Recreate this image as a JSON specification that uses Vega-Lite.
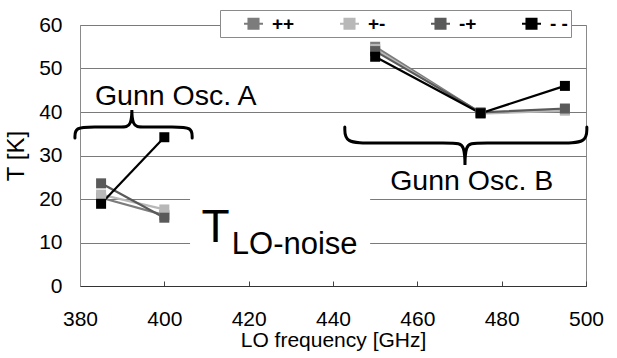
{
  "$schema": "https://vega.github.io/schema/vega-lite/v6.json",
  "width": 506,
  "height": 261,
  "autosize": {"type": "none"},
  "padding": {"left": 80, "top": 25, "right": 31, "bottom": 72},
  "background": "white",
  "config": {
    "font": "Liberation Sans",
    "view": {"stroke": "#8a8a8a", "strokeWidth": 1},
    "axis": {"labelFont": "Liberation Sans", "titleFont": "Liberation Sans", "labelColor": "#000", "titleColor": "#000", "titleFontWeight": "normal"}
  },
  "datasets": {
    "series": [
      {"f": 385, "T": 20.3, "pol": "++", "osc": "A"},
      {"f": 400, "T": 16.3, "pol": "++", "osc": "A"},
      {"f": 385, "T": 21.0, "pol": "+-", "osc": "A"},
      {"f": 400, "T": 17.6, "pol": "+-", "osc": "A"},
      {"f": 385, "T": 23.6, "pol": "-+", "osc": "A"},
      {"f": 400, "T": 15.7, "pol": "-+", "osc": "A"},
      {"f": 450, "T": 55.0, "pol": "++", "osc": "B"},
      {"f": 475, "T": 39.8, "pol": "++", "osc": "B"},
      {"f": 495, "T": 40.5, "pol": "++", "osc": "B"},
      {"f": 450, "T": 54.5, "pol": "+-", "osc": "B"},
      {"f": 475, "T": 39.6, "pol": "+-", "osc": "B"},
      {"f": 495, "T": 40.3, "pol": "+-", "osc": "B"},
      {"f": 450, "T": 54.0, "pol": "-+", "osc": "B"},
      {"f": 475, "T": 39.9, "pol": "-+", "osc": "B"},
      {"f": 495, "T": 40.8, "pol": "-+", "osc": "B"},
      {"f": 385, "T": 18.9, "pol": "- -", "osc": "A"},
      {"f": 400, "T": 34.2, "pol": "- -", "osc": "A"},
      {"f": 450, "T": 52.7, "pol": "- -", "osc": "B"},
      {"f": 475, "T": 39.7, "pol": "- -", "osc": "B"},
      {"f": 495, "T": 46.0, "pol": "- -", "osc": "B"}
    ],
    "braces": [
      {"brace": "A", "i": 0, "f": 378.8, "T": 34.0},
      {"brace": "A", "i": 1, "f": 378.8, "T": 36.55},
      {"brace": "A", "i": 2, "f": 383.0, "T": 36.55},
      {"brace": "A", "i": 3, "f": 390.0, "T": 36.55},
      {"brace": "A", "i": 4, "f": 392.3, "T": 36.55},
      {"brace": "A", "i": 5, "f": 392.3, "T": 42.4},
      {"brace": "A", "i": 6, "f": 392.3, "T": 36.55},
      {"brace": "A", "i": 7, "f": 394.6, "T": 36.55},
      {"brace": "A", "i": 8, "f": 402.4, "T": 36.55},
      {"brace": "A", "i": 9, "f": 406.6, "T": 36.55},
      {"brace": "A", "i": 10, "f": 406.6, "T": 34.0},
      {"brace": "B", "i": 0, "f": 442.8, "T": 36.55},
      {"brace": "B", "i": 1, "f": 442.8, "T": 32.87},
      {"brace": "B", "i": 2, "f": 449.0, "T": 32.87},
      {"brace": "B", "i": 3, "f": 469.0, "T": 32.87},
      {"brace": "B", "i": 4, "f": 471.3, "T": 32.87},
      {"brace": "B", "i": 5, "f": 471.3, "T": 25.3},
      {"brace": "B", "i": 6, "f": 471.3, "T": 32.87},
      {"brace": "B", "i": 7, "f": 473.6, "T": 32.87},
      {"brace": "B", "i": 8, "f": 494.0, "T": 32.87},
      {"brace": "B", "i": 9, "f": 500.2, "T": 32.87},
      {"brace": "B", "i": 10, "f": 500.2, "T": 36.55}
    ]
  },
  "layer": [
    {
      "data": {"values": [{"f": 406.1, "f2": 448.8, "T": 4.5, "T2": 21.0}]},
      "mark": {"type": "rect", "fill": "white", "stroke": null},
      "encoding": {
        "x": {"field": "f", "type": "quantitative", "scale": {"domain": [380, 500], "nice": false, "zero": false},
          "axis": {"values": [380, 400, 420, 440, 460, 480, 500], "format": "d", "grid": false, "ticks": true, "tickSize": -5, "tickColor": "#444", "domainColor": "#333", "labelFontSize": 21, "labelPadding": 27, "labelFlush": false, "title": "LO frequency [GHz]", "titleFontSize": 21, "titlePadding": 0}},
        "x2": {"field": "f2"},
        "y": {"field": "T", "type": "quantitative", "scale": {"domain": [0, 60], "nice": false},
          "axis": {"values": [0, 10, 20, 30, 40, 50, 60], "grid": true, "gridColor": "#7a7a7a", "gridWidth": 1, "ticks": false, "domainColor": "#8a8a8a", "labelFontSize": 21, "labelPadding": 18, "title": "T [K]", "titleFontSize": 24, "titlePadding": 10}},
        "y2": {"field": "T2"}
      }
    },
    {
      "data": {"name": "braces"},
      "mark": {"type": "line", "interpolate": "basis", "color": "black", "strokeWidth": 3, "strokeCap": "round"},
      "encoding": {
        "x": {"field": "f", "type": "quantitative"},
        "y": {"field": "T", "type": "quantitative"},
        "detail": {"field": "brace"},
        "order": {"field": "i", "type": "quantitative"}
      }
    },
    {
      "data": {"name": "series"},
      "mark": {"type": "line", "strokeWidth": 2.2},
      "encoding": {
        "x": {"field": "f", "type": "quantitative"},
        "y": {"field": "T", "type": "quantitative"},
        "detail": {"field": "osc"},
        "color": {"field": "pol", "type": "nominal",
          "scale": {"domain": ["++", "+-", "-+", "- -"], "range": ["#7c7c7c", "#b8b8b8", "#5a5a5a", "#000000"]},
          "legend": {"orient": "none", "legendX": 140, "legendY": -15, "direction": "horizontal", "title": null,
            "symbolType": "M-1,0H1M-0.53,-0.53H0.53V0.53H-0.53Z", "symbolSize": 361, "symbolStrokeWidth": 2,
            "labelFontSize": 19, "labelFontWeight": "bold", "labelFont": "Liberation Sans", "labelColor": "#000", "labelOffset": 8,
            "columnPadding": 24, "padding": 3, "symbolOffset": 20,
            "fillColor": "white", "strokeColor": "#8a8a8a"}
        }
      }
    },
    {
      "data": {"name": "series"},
      "mark": {"type": "point", "shape": "square", "filled": true, "size": 100, "opacity": 1},
      "encoding": {
        "x": {"field": "f", "type": "quantitative"},
        "y": {"field": "T", "type": "quantitative"},
        "color": {"field": "pol", "type": "nominal",
          "legend": {"orient": "none", "legendX": 140, "legendY": -15, "direction": "horizontal", "title": null,
            "symbolType": "M-1,0H1M-0.53,-0.53H0.53V0.53H-0.53Z", "symbolSize": 361, "symbolStrokeWidth": 2,
            "labelFontSize": 19, "labelFontWeight": "bold", "labelFont": "Liberation Sans", "labelColor": "#000", "labelOffset": 8,
            "columnPadding": 24, "padding": 3, "symbolOffset": 20,
            "fillColor": "white", "strokeColor": "#8a8a8a"}
        }
      }
    },
    {
      "data": {"values": [{"f": 402.7, "T": 41.6, "label": "Gunn Osc. A"}, {"f": 472.9, "T": 22.1, "label": "Gunn Osc. B"}]},
      "mark": {"type": "text", "font": "Liberation Sans", "fontSize": 28.5, "align": "center", "baseline": "alphabetic", "color": "black"},
      "encoding": {
        "x": {"field": "f", "type": "quantitative"},
        "y": {"field": "T", "type": "quantitative"},
        "text": {"field": "label"}
      }
    },
    {
      "data": {"values": [{"f": 408.8, "T": 10.1, "label": "T"}]},
      "mark": {"type": "text", "font": "Liberation Sans", "fontSize": 46, "align": "left", "baseline": "alphabetic", "color": "black"},
      "encoding": {
        "x": {"field": "f", "type": "quantitative"},
        "y": {"field": "T", "type": "quantitative"},
        "text": {"field": "label"}
      }
    },
    {
      "data": {"values": [{"f": 416.0, "T": 7.4, "label": "LO-noise"}]},
      "mark": {"type": "text", "font": "Liberation Sans", "fontSize": 31, "align": "left", "baseline": "alphabetic", "color": "black"},
      "encoding": {
        "x": {"field": "f", "type": "quantitative"},
        "y": {"field": "T", "type": "quantitative"},
        "text": {"field": "label"}
      }
    }
  ]
}
